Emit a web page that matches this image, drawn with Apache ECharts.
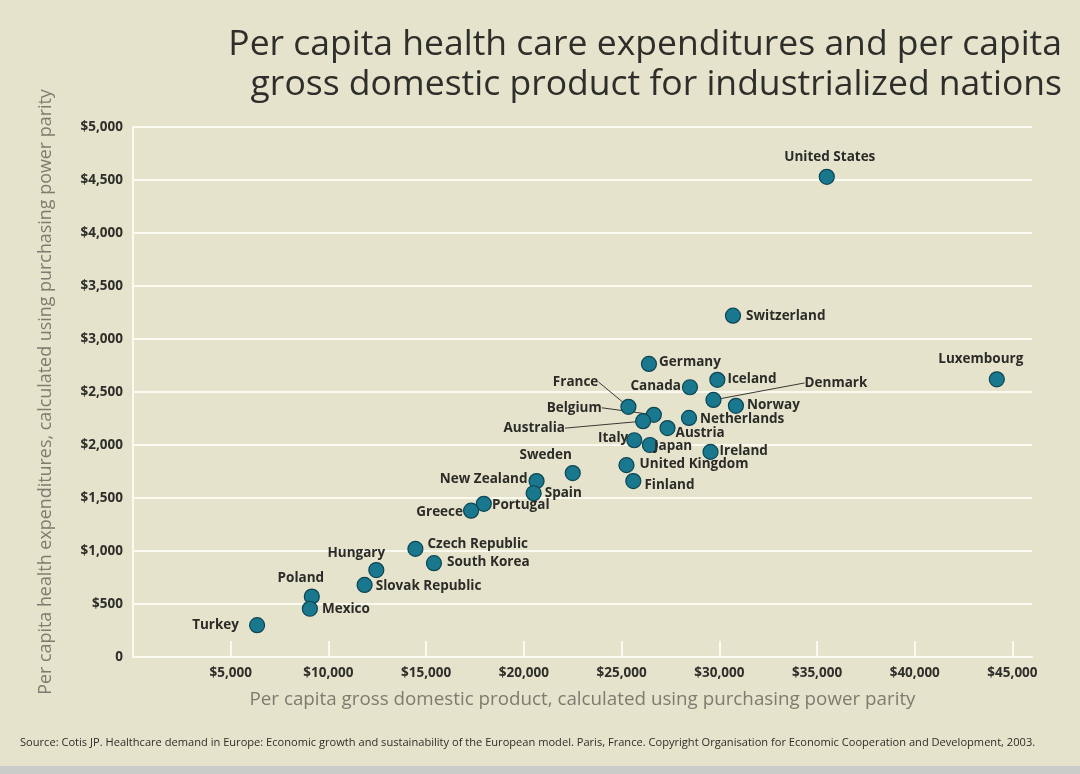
<!DOCTYPE html>
<html>
<head>
<meta charset="utf-8">
<script src="https://cdn.jsdelivr.net/npm/echarts@6/dist/echarts.min.js"></script>
<style>
  html, body { margin: 0; padding: 0; background: #d8dad4; }
  #chart { width: 1080px; height: 774px; }
</style>
</head>
<body>
<div id="chart"></div>
<script>
// data
var countries = ['United States', 'Switzerland', 'Luxembourg', 'Germany', 'Iceland', 'Canada', 'France',
  'Denmark', 'Norway', 'Belgium', 'Australia', 'Netherlands', 'Austria', 'Italy', 'Japan', 'Ireland',
  'United Kingdom', 'Finland', 'Sweden', 'New Zealand', 'Spain', 'Portugal', 'Greece', 'Czech Republic',
  'South Korea', 'Hungary', 'Slovak Republic', 'Poland', 'Mexico', 'Turkey'];
var gdp = [35500, 30700, 44200, 26400, 29900, 28500, 25350, 29700, 30850, 26650, 26100, 28450, 27350, 25650,
  26450, 29550, 25250, 25600, 22500, 20650, 20500, 17950, 17300, 14450, 15400, 12450, 11850, 9150, 9050, 6350];
var spending = [4530, 3220, 2620, 2765, 2615, 2545, 2360, 2425, 2370, 2285, 2225, 2255, 2160, 2045, 2000, 1935,
  1810, 1660, 1735, 1660, 1545, 1445, 1380, 1020, 885, 820, 680, 570, 455, 300];
var xTicks = [5000, 10000, 15000, 20000, 25000, 30000, 35000, 40000, 45000];

// where each name sits next to its dot: [position, dx, dy, distance]
var labelPlace = {
  'United States': ['top', 3, 0, 5],
  'Switzerland': ['right', 0, 0, 5],
  'Luxembourg': ['top', -16, 0, 5],
  'Germany': ['right', 0, -2, 2],
  'Iceland': ['right', 0, -1, 2],
  'Canada': ['left', 0, -1, 1],
  'Norway': ['right', 0, -1, 3],
  'Netherlands': ['right', 0, 1, 3],
  'Austria': ['right', -2, 5, 2],
  'Italy': ['left', 2, -2, 0],
  'Japan': ['right', -4, 1, 0],
  'Ireland': ['right', 0, -1, 1],
  'United Kingdom': ['right', 0, -1, 5],
  'Finland': ['right', 0, 4, 3],
  'Sweden': ['top', -27, 2, 5],
  'New Zealand': ['left', 0, -2, 1],
  'Spain': ['right', 0, 0, 3],
  'Portugal': ['right', 0, 1, 0],
  'Greece': ['left', 0, 1, 0],
  'Czech Republic': ['right', 0, -5, 4],
  'South Korea': ['right', 0, -1, 5],
  'Hungary': ['top', -20, 3, 5],
  'Slovak Republic': ['right', 0, 1, 3],
  'Poland': ['top', -11, 2, 5],
  'Mexico': ['right', 0, 0, 4],
  'Turkey': ['left', 0, 0, 10],
  // these are pulled away from their dot with a leader line
  'France': ['left', -17, -25, 5],
  'Belgium': ['left', -39, -7, 5],
  'Australia': ['left', -65, 7, 5],
  'Denmark': ['right', 78, -17, 5]
};
var leaderNames = ['France', 'Belgium', 'Australia', 'Denmark'];

var points = countries.map(function (name, i) {
  var p = labelPlace[name];
  var item = {
    name: name,
    value: [gdp[i], spending[i]],
    label: { position: p[0], distance: p[3] }
  };
  if (leaderNames.indexOf(name) >= 0) {
    item.labelLine = { show: true };
  }
  return item;
});

function money(v) {
  return v === 0 ? '0' : '$' + v.toLocaleString('en-US');
}

var chart = echarts.init(document.getElementById('chart'));
chart.setOption({
  animation: false,
  backgroundColor: '#e5e3cc',
  textStyle: { fontFamily: 'Open Sans' },
  graphic: [
    {
      type: 'text',
      right: 18,
      top: 27,
      style: {
        text: 'Per capita health care expenditures and per capita',
        font: '35.5px "Open Sans"',
        fill: '#2e2e2a'
      }
    },
    {
      type: 'text',
      right: 18,
      top: 67,
      style: {
        text: 'gross domestic product for industrialized nations',
        font: '35.5px "Open Sans"',
        fill: '#2e2e2a'
      }
    },
    {
      type: 'text',
      left: 20,
      top: 737,
      style: {
        text: 'Source: Cotis JP. Healthcare demand in Europe: Economic growth and sustainability of the European model. Paris, France. Copyright Organisation for Economic Cooperation and Development, 2003.',
        font: '11.1px "Open Sans"',
        fill: '#2e2e2a'
      }
    },
    {
      type: 'rect',
      left: 0,
      top: 766,
      shape: { width: 1080, height: 8 },
      style: { fill: '#c9ccc8' }
    }
  ],
  grid: { left: 133, top: 127, width: 899, height: 530 },
  xAxis: {
    type: 'value',
    min: 0,
    max: 46000,
    interval: 5000,
    name: 'Per capita gross domestic product, calculated using purchasing power parity',
    nameLocation: 'middle',
    nameGap: 33,
    nameTextStyle: { fontSize: 18.8, color: '#7c7c70' },
    axisLine: { show: true, lineStyle: { color: '#fbfaf0', width: 2 } },
    axisTick: { show: true, inside: true, length: 16, customValues: xTicks, lineStyle: { color: '#fbfaf0', width: 2 } },
    axisLabel: { customValues: xTicks, formatter: money, fontSize: 13.5, fontWeight: 'bold', color: '#2e2e2a', margin: 9 },
    splitLine: { show: false }
  },
  yAxis: {
    type: 'value',
    min: 0,
    max: 5000,
    interval: 500,
    name: 'Per capita health expenditures, calculated using purchasing power parity',
    nameLocation: 'middle',
    nameGap: 78,
    nameTextStyle: { fontSize: 17.9, color: '#7c7c70' },
    axisLine: { show: true, lineStyle: { color: '#fbfaf0', width: 2 } },
    axisTick: { show: false },
    axisLabel: { formatter: money, fontSize: 13.5, fontWeight: 'bold', color: '#2e2e2a', margin: 10 },
    splitLine: { show: true, lineStyle: { color: '#fbfaf0', width: 2 } }
  },
  series: [
    {
      type: 'scatter',
      symbolSize: 15,
      itemStyle: { color: '#19788e', borderColor: '#0c4554', borderWidth: 1.2, opacity: 1 },
      label: {
        show: true,
        formatter: '{b}',
        fontSize: 13.5,
        fontWeight: 'bold',
        color: '#2b2b28'
      },
      labelLine: { show: false, lineStyle: { color: '#3a3a36', width: 1 } },
      labelLayout: function (params) {
        var p = labelPlace[countries[params.dataIndex]];
        return { dx: p[1], dy: p[2] };
      },
      emphasis: { disabled: true },
      data: points
    }
  ]
});
</script>
</body>
</html>
